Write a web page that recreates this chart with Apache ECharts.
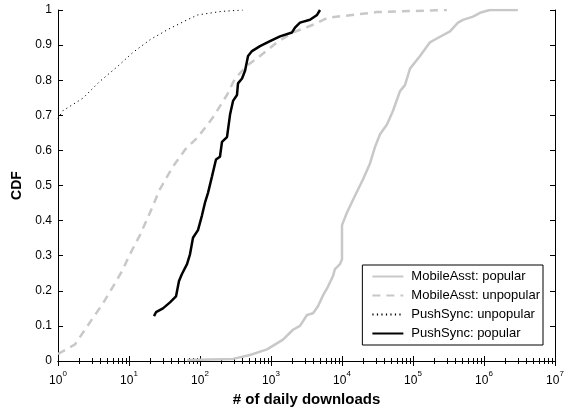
<!DOCTYPE html>
<html>
<head>
<meta charset="utf-8">
<script src="https://cdn.jsdelivr.net/npm/echarts@6/dist/echarts.min.js"></script>
<style>
  html, body { margin: 0; padding: 0; background: #fff; }
  #chart { width: 567px; height: 412px; }
</style>
</head>
<body>
<div id="chart"></div>
<script>
// CDF of daily downloads per app group (x: downloads, y: cumulative fraction)
const seriesNames = [
  'MobileAsst: popular',
  'MobileAsst: unpopular',
  'PushSync: unpopular',
  'PushSync: popular'
];

const maPopularX = [66, 292, 506, 879, 1476, 2042, 2560, 3215, 3907, 4590, 5400, 6350, 7470, 7960, 9370, 10000, 10000, 11750, 15240, 19780, 24800, 29200, 34300, 43000, 52300, 65600, 77100, 90700, 125600, 173500, 204000, 332000, 430000, 506000, 700000, 879000, 1200000, 3000000];
const maPopularY = [0.003, 0.006, 0.017, 0.033, 0.061, 0.089, 0.100, 0.131, 0.136, 0.156, 0.187, 0.212, 0.242, 0.262, 0.276, 0.290, 0.387, 0.423, 0.471, 0.518, 0.563, 0.610, 0.646, 0.674, 0.713, 0.769, 0.786, 0.833, 0.869, 0.908, 0.916, 0.939, 0.964, 0.972, 0.981, 0.992, 1.0, 1.0];

const maUnpopularX = [1, 1.73, 2.25, 3.11, 4.3, 5.95, 7.97, 10.3, 14.3, 19.8, 27.3, 41.7, 61.5, 93.7, 152, 240, 311, 459, 700, 1216, 2042, 3907, 6350, 31100, 300000];
const maUnpopularY = [0.02, 0.047, 0.081, 0.123, 0.164, 0.212, 0.256, 0.304, 0.359, 0.423, 0.490, 0.554, 0.602, 0.638, 0.694, 0.758, 0.805, 0.841, 0.869, 0.908, 0.936, 0.958, 0.978, 0.994, 1.0];

const psUnpopularX = [1, 1.17, 2.25, 3.9, 6.8, 11.5, 20, 35, 66, 93, 200, 400];
const psUnpopularY = [0.69, 0.713, 0.749, 0.797, 0.838, 0.880, 0.916, 0.944, 0.972, 0.986, 0.996, 1.0];

const psPopularX = [22.5, 24, 30.1, 37.8, 45.9, 50.6, 55.7, 65.6, 72.3, 79.7, 93.7, 106.7, 117.5, 129.7, 147.6, 168, 191, 204, 240, 265, 292, 332, 343, 391, 431, 475, 540, 700, 968, 1340, 1976, 2178, 2560, 3540, 4450, 4900];
const psPopularY = [0.128, 0.139, 0.150, 0.167, 0.184, 0.228, 0.248, 0.276, 0.304, 0.351, 0.373, 0.415, 0.451, 0.479, 0.526, 0.574, 0.582, 0.624, 0.638, 0.702, 0.741, 0.758, 0.791, 0.805, 0.827, 0.869, 0.883, 0.897, 0.911, 0.925, 0.936, 0.950, 0.964, 0.972, 0.986, 1.0];

const xMin = 1, xMax = 1e7;
const yTicksStep = 0.1;

function pairs(xs, ys) {
  return xs.map((x, i) => [x, ys[i]]);
}

const FONT = 'Liberation Sans, Arial, sans-serif';

const chart = echarts.init(document.getElementById('chart'), null, { renderer: 'canvas' });

const logLabel = {
  color: '#000',
  fontFamily: FONT,
  fontSize: 12,
  margin: 9,
  formatter: function (v) {
    const e = Math.round(Math.log10(v));
    return '{b|10}{s|' + e + '}';
  },
  rich: {
    b: { fontSize: 12, fontFamily: FONT, color: '#000', verticalAlign: 'bottom' },
    s: { fontSize: 8, fontFamily: FONT, color: '#000', verticalAlign: 'top', padding: [0, 0, 9, 0] }
  }
};

const option = {
  backgroundColor: '#fff',
  animation: false,
  grid: { left: 58, right: 12, top: 10, bottom: 43, containLabel: false },
  xAxis: [
    {
      type: 'log', logBase: 10, min: xMin, max: xMax,
      name: '# of daily downloads',
      nameLocation: 'middle', nameGap: 31,
      nameTextStyle: { fontFamily: FONT, fontSize: 15, fontWeight: 'bold', color: '#000' },
      axisLine: { lineStyle: { color: '#000', width: 1 } },
      axisTick: { inside: true, length: 5, lineStyle: { color: '#000' } },
      minorTick: { show: true, splitNumber: 9, length: 3, lineStyle: { color: '#000' } },
      axisLabel: logLabel,
      splitLine: { show: false }
    },
    {
      type: 'log', logBase: 10, min: xMin, max: xMax, position: 'top',
      axisLine: { lineStyle: { color: '#000', width: 1 } },
      axisTick: { inside: true, length: 5, lineStyle: { color: '#000' } },
      minorTick: { show: true, splitNumber: 9, length: 3, lineStyle: { color: '#000' } },
      axisLabel: { show: false },
      splitLine: { show: false }
    }
  ],
  yAxis: [
    {
      type: 'value', min: 0, max: 1, interval: yTicksStep,
      name: 'CDF', nameLocation: 'middle', nameGap: 32,
      nameTextStyle: { fontFamily: FONT, fontSize: 14, fontWeight: 'bold', color: '#000' },
      axisLine: { show: true, lineStyle: { color: '#000', width: 1 } },
      axisTick: { show: true, inside: true, length: 5, lineStyle: { color: '#000' } },
      axisLabel: { color: '#000', fontFamily: FONT, fontSize: 12, margin: 6 },
      splitLine: { show: false }
    },
    {
      type: 'value', min: 0, max: 1, interval: yTicksStep, position: 'right',
      axisLine: { show: true, lineStyle: { color: '#000', width: 1 } },
      axisTick: { show: true, inside: true, length: 5, lineStyle: { color: '#000' } },
      axisLabel: { show: false },
      splitLine: { show: false }
    }
  ],
  legend: {
    orient: 'vertical',
    right: 24, top: 265,
    itemWidth: 31, itemHeight: 12, itemGap: 6,
    padding: [5, 3, 5, 9],
    borderColor: '#000', borderWidth: 1,
    backgroundColor: '#fff',
    itemStyle: { opacity: 0 },
    textStyle: { fontFamily: FONT, fontSize: 13, color: '#000', padding: [0, 0, 0, 3] },
    data: seriesNames
  },
  series: [
    {
      name: seriesNames[0], type: 'line', data: pairs(maPopularX, maPopularY),
      symbol: 'none', smooth: false,
      lineStyle: { color: '#c8c8c8', width: 2.5 },
      itemStyle: { color: '#c8c8c8' }
    },
    {
      name: seriesNames[1], type: 'line', data: pairs(maUnpopularX, maUnpopularY),
      symbol: 'none', smooth: false,
      lineStyle: { color: '#c8c8c8', width: 2.5, type: [8, 6] },
      itemStyle: { color: '#c8c8c8' }
    },
    {
      name: seriesNames[2], type: 'line', data: pairs(psUnpopularX, psUnpopularY),
      symbol: 'none', smooth: false,
      lineStyle: { color: '#000', width: 1, type: [1.2, 3.3] },
      itemStyle: { color: '#000' }
    },
    {
      name: seriesNames[3], type: 'line', data: pairs(psPopularX, psPopularY),
      symbol: 'none', smooth: false,
      lineStyle: { color: '#000', width: 2.5 },
      itemStyle: { color: '#000' }
    }
  ]
};

chart.setOption(option);
</script>
</body>
</html>
